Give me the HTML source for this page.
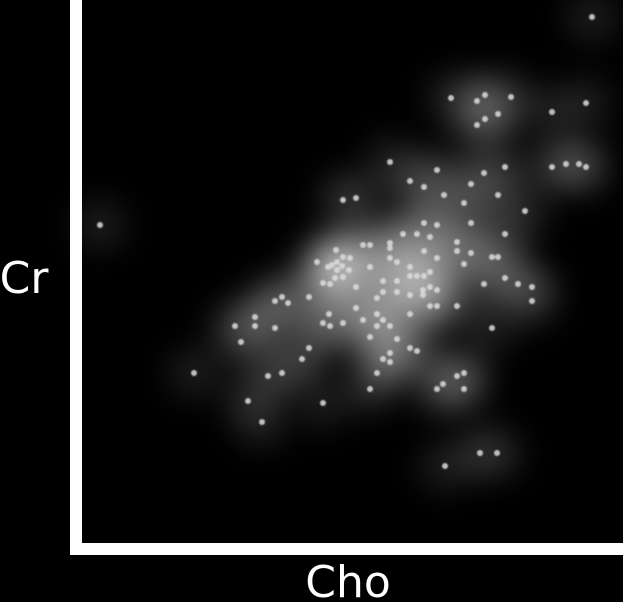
<!DOCTYPE html>
<html><head><meta charset="utf-8"><style>
html,body{margin:0;padding:0;background:#000;width:623px;height:602px;overflow:hidden}
svg{display:block}
text{font-family:"DejaVu Sans","Liberation Sans",sans-serif;fill:#fff}
</style></head><body>
<svg id="chart" width="623" height="602">
<defs>
<filter id="blur" x="-50%" y="-50%" width="200%" height="200%"><feGaussianBlur stdDeviation="15"/></filter>
<filter id="pblur"><feGaussianBlur stdDeviation="0.7"/></filter>
</defs>
<rect x="0" y="0" width="623" height="602" fill="#000"/>
<g id="density" filter="url(#blur)"></g>
<g id="points" filter="url(#pblur)"></g>
<rect x="70" y="0" width="12" height="555" fill="#fff"/>
<rect x="70" y="543" width="553" height="12" fill="#fff"/>
<text x="348" y="597" font-size="44" text-anchor="middle">Cho</text>
<text x="24" y="293" font-size="44" text-anchor="middle">Cr</text>
</svg>
<script>
const cho = [310,357,330,344,364,391,404,425,472,384,418,263,276,445,391,344,357,425,323,337,350,377,377,391,412,418,384,283,290,310,310,310,317,290,344,357,
256,263,270,257,248,257,269,263,255,237,243,250,252,262,
330,330,337,344,350,303,317,276,350,343,343,357,303,317,330,297,404,425,438,452,452,377,350,357,229,195,202,208,276,249,297,330,175,175,155,195,243,250,263,283,297,303,310,412,161,290,317,229,330,337,310,303,310,222,114,188,202,297,377,384,363,357,384,290,168,243,
512,371,397,405,431,418,405,397,472,506,486,499,506,20,182,365,400,417];
const cr = [383,375,364,358,350,361,372,378,378,342,350,345,347,334,322,322,320,311,311,311,308,303,294,292,288,288,281,300,300,302,297,287,283,278,294,287,
295,288,287,283,278,275,275,268,267,283,262,261,280,279,
278,269,269,269,273,264,264,258,258,255,250,255,253,253,250,247,261,267,261,258,244,239,239,239,248,244,248,242,237,231,231,231,228,219,219,217,222,219,222,225,219,225,219,217,203,208,206,197,197,194,192,186,183,186,172,169,172,172,169,172,161,156,156,156,144,142,
528,447,444,450,448,431,426,420,433,442,381,381,378,320,123,79,92,92];
const xDomain = [0, 543], xRange = [80, 623];
const yDomain = [0, 545], yRange = [545, 0];
function xScale(v){return xRange[0] + (v - xDomain[0]) / (xDomain[1] - xDomain[0]) * (xRange[1] - xRange[0]);}
function yScale(v){return yRange[0] + (v - yDomain[0]) / (yDomain[1] - yDomain[0]) * (yRange[1] - yRange[0]);}
const NS = "http://www.w3.org/2000/svg";
const dg = document.getElementById('density');
const pg = document.getElementById('points');
for (let i = 0; i < cho.length; i++) {
  const cx = xScale(cho[i]), cy = yScale(cr[i]);
  const d = document.createElementNS(NS, 'circle');
  d.setAttribute('cx', cx); d.setAttribute('cy', cy); d.setAttribute('r', 26);
  d.setAttribute('fill', '#fff'); d.setAttribute('fill-opacity', '0.1');
  
  
  dg.appendChild(d);
  const p = document.createElementNS(NS, 'circle');
  p.setAttribute('cx', cx); p.setAttribute('cy', cy); p.setAttribute('r', 3);
  p.setAttribute('fill', '#dddddd'); p.setAttribute('fill-opacity', '0.85');
  
  
  pg.appendChild(p);
}
</script>
</body></html>
